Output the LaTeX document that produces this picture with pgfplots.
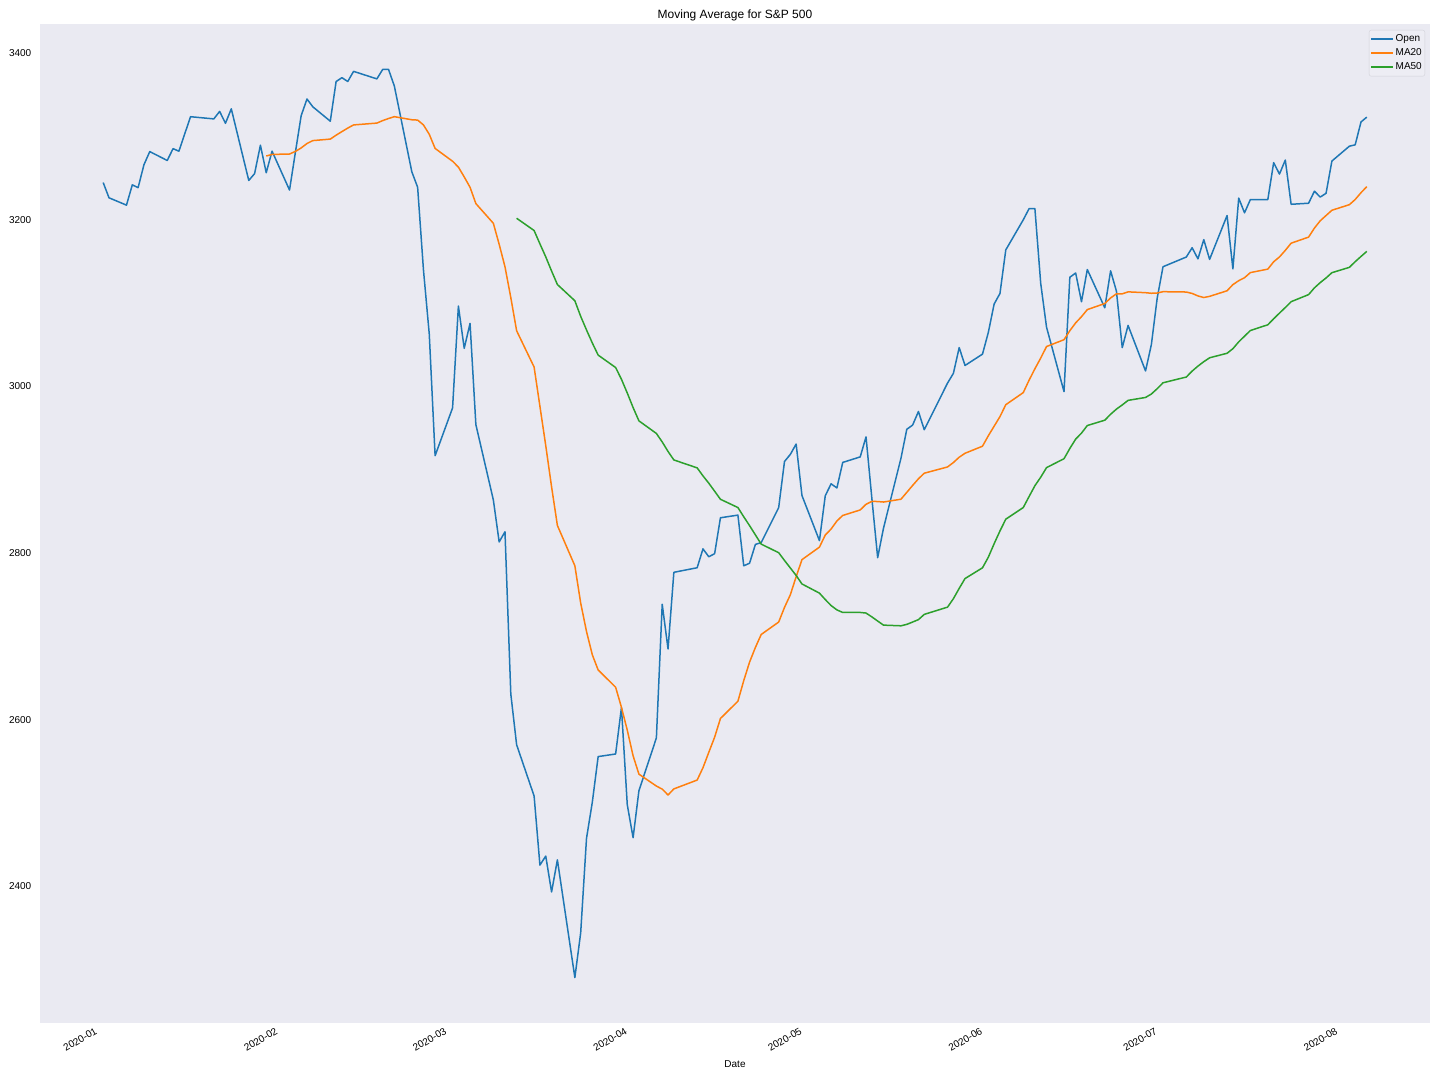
\documentclass[border=0pt]{standalone}
\usepackage{fontspec}
\setmainfont{Liberation Sans}
\usepackage{pgfplots}
\usepackage{pgfplotstable}
\pgfplotsset{compat=1.18}
\definecolor{bgc}{HTML}{EAEAF2}
\definecolor{cOpen}{HTML}{1F77B4}
\definecolor{cMAa}{HTML}{FF7F0E}
\definecolor{cMAb}{HTML}{2CA02C}
\definecolor{legfill}{HTML}{EDEDF4}
\definecolor{legedge}{HTML}{D2D2DA}
\pgfplotsset{
  mylegimg/.style={legend image code/.code={\draw[#1,line width=1.5bp] (0bp,0bp) -- (22bp,0bp);}},
}

% day = days since 2020-01-01
\pgfplotstableread{
day open
1 3244.67
2 3226.36
5 3217.55
6 3241.86
7 3238.59
8 3266.03
9 3281.81
12 3271.13
13 3285.35
14 3282.27
15 3302.97
16 3323.66
20 3321.03
21 3330.02
22 3315.77
23 3333.10
26 3247.16
27 3255.35
28 3289.46
29 3256.45
30 3282.33
33 3235.66
34 3280.61
35 3324.91
36 3344.92
37 3335.54
40 3318.28
41 3365.87
42 3370.50
43 3365.90
44 3378.08
48 3369.04
49 3380.39
50 3380.45
51 3360.50
54 3257.61
55 3238.94
56 3139.90
57 3062.54
58 2916.90
61 2974.28
62 3096.46
63 3045.75
64 3075.70
65 2954.20
68 2863.89
69 2813.48
70 2825.60
71 2630.86
72 2569.99
75 2508.59
76 2425.66
77 2436.50
78 2393.48
79 2431.94
82 2290.71
83 2344.44
84 2457.77
85 2501.29
86 2555.87
89 2558.98
90 2614.69
91 2498.08
92 2458.54
93 2514.92
96 2578.28
97 2738.65
98 2685.00
99 2776.99
103 2782.46
104 2805.10
105 2795.64
106 2799.34
107 2842.43
110 2845.62
111 2784.81
112 2787.89
113 2810.42
114 2812.64
117 2854.65
118 2909.96
119 2918.46
120 2930.91
121 2869.09
124 2815.01
125 2868.88
126 2883.14
127 2878.26
128 2908.83
131 2915.46
132 2939.50
133 2865.86
134 2794.54
135 2829.95
138 2913.86
139 2948.59
140 2953.63
141 2969.95
142 2948.05
146 3004.08
147 3015.65
148 3046.61
149 3025.17
152 3038.78
153 3064.78
154 3098.90
155 3111.56
156 3163.84
159 3199.92
160 3213.32
161 3213.42
162 3123.53
163 3071.04
166 2993.76
167 3131.00
168 3136.13
169 3101.64
170 3140.29
173 3094.42
174 3138.70
175 3114.40
176 3046.60
177 3073.20
180 3018.59
181 3050.20
182 3105.92
183 3143.64
187 3155.29
188 3166.44
189 3153.07
190 3176.17
191 3152.47
194 3205.08
195 3141.11
196 3225.98
197 3208.36
198 3224.21
201 3224.29
202 3268.52
203 3254.86
204 3271.64
205 3218.58
208 3219.84
209 3234.27
210 3227.22
211 3231.76
212 3270.45
215 3288.26
216 3289.92
217 3317.37
218 3323.17
}\openTable

\pgfplotstableread{
day ma
29 3276.5
30 3278.4
33 3278.9
34 3282.0
35 3286.2
36 3291.5
37 3295.0
40 3296.8
41 3301.5
42 3305.8
43 3310.0
44 3313.8
48 3316.0
49 3319.0
50 3321.5
51 3323.7
54 3320.0
55 3319.6
56 3313.8
57 3302.5
58 3285.6
61 3270.2
62 3263.2
63 3251.4
64 3239.0
65 3219.4
68 3195.8
69 3170.6
70 3143.6
71 3106.6
72 3066.8
75 3023.3
76 2976.2
77 2929.0
78 2879.6
79 2833.2
82 2784.8
83 2740.1
84 2706.0
85 2677.9
86 2659.8
89 2639.1
90 2615.0
91 2587.6
92 2556.8
93 2534.8
96 2520.5
97 2516.8
98 2509.8
99 2517.1
103 2527.7
104 2542.5
105 2561.0
106 2579.1
107 2601.6
110 2622.3
111 2647.0
112 2669.2
113 2686.8
114 2702.4
117 2717.3
118 2734.9
119 2750.0
120 2771.7
121 2792.2
124 2807.2
125 2821.7
126 2828.9
127 2838.6
128 2845.2
131 2851.8
132 2858.6
133 2862.1
134 2861.9
135 2861.3
138 2864.7
139 2872.9
140 2881.2
141 2889.2
142 2895.9
146 2903.4
147 2908.7
148 2915.1
149 2919.8
152 2928.3
153 2940.8
154 2952.3
155 2963.8
156 2978.1
159 2992.6
160 3007.5
161 3021.2
162 3034.1
163 3047.9
166 3056.1
167 3066.9
168 3076.3
169 3083.7
170 3092.2
173 3099.5
174 3106.2
175 3111.1
176 3111.1
177 3113.5
180 3112.5
181 3111.8
182 3112.1
183 3113.7
187 3113.3
188 3111.6
189 3108.6
190 3106.7
191 3108.1
194 3114.8
195 3122.2
196 3126.9
197 3130.5
198 3136.6
201 3140.8
202 3149.6
203 3155.4
204 3163.3
205 3171.9
208 3179.2
209 3190.0
210 3198.8
211 3205.1
212 3211.4
215 3218.1
216 3224.3
217 3232.5
218 3239.8
}\maTwentyTable

\pgfplotstableread{
day ma
72 3201.8
75 3187.1
76 3171.1
77 3155.5
78 3138.5
79 3122.3
82 3102.8
83 3084.1
84 3067.8
85 3052.1
86 3037.6
89 3022.7
90 3008.6
91 2992.1
92 2974.7
93 2958.7
96 2943.6
97 2933.4
98 2922.0
99 2911.8
103 2902.3
104 2892.7
105 2883.9
106 2874.3
107 2864.6
110 2854.7
111 2843.6
112 2833.0
113 2821.9
114 2810.8
117 2800.5
118 2791.2
119 2782.2
120 2773.2
121 2763.0
124 2752.0
125 2744.3
126 2737.1
127 2731.9
128 2728.8
131 2728.8
132 2728.1
133 2723.5
134 2718.5
135 2713.6
138 2712.8
139 2714.5
140 2717.3
141 2720.2
142 2726.5
146 2735.2
147 2745.3
148 2757.7
149 2769.5
152 2782.4
153 2795.1
154 2811.3
155 2826.6
156 2840.7
159 2854.7
160 2867.9
161 2880.9
162 2891.1
163 2902.6
166 2913.3
167 2925.6
168 2936.8
169 2944.0
170 2953.1
173 2959.5
174 2966.6
175 2972.8
176 2977.8
177 2983.3
180 2986.8
181 2990.9
182 2997.3
183 3004.4
187 3011.3
188 3018.4
189 3024.4
190 3029.7
191 3034.4
194 3039.8
195 3045.3
196 3053.5
197 3060.3
198 3067.1
201 3074.0
202 3081.2
203 3088.0
204 3094.7
205 3101.7
208 3110.2
209 3118.3
210 3124.6
211 3130.2
212 3136.5
215 3142.9
216 3149.7
217 3156.0
218 3162.1
}\maFiftyTable

\begin{document}
\begin{tikzpicture}
\begin{axis}[
  scale only axis,
  width=1390bp, height=999bp,
  at={(0,0)}, anchor=south west,
  xmin=-9.85, xmax=228.85,
  ymin=2236.2, ymax=3434.9,
  axis background/.style={fill=bgc},
  axis line style={draw=none},
  tick style={draw=none},
  major tick length=0pt,
  xtick={0,31,60,91,121,152,182,213},
  xticklabels={2020-01,2020-02,2020-03,2020-04,2020-05,2020-06,2020-07,2020-08},
  xticklabel style={font=\fontsize{10bp}{12bp}\selectfont, inner sep=0pt, xshift=-3bp, yshift=-4bp, rotate=30, anchor=north east},
  ytick={2400,2600,2800,3000,3200,3400},
  yticklabel style={font=\fontsize{10bp}{12bp}\selectfont, inner sep=0pt, anchor=east, xshift=-8.5bp},
  /pgf/number format/1000 sep={},
  /pgf/number format/assume math mode=true,
  scaled y ticks=false,
  title={Moving Average for S\&P 500},
  title style={font=\fontsize{12bp}{14bp}\selectfont, at={(axis description cs:0.5,1)}, anchor=south, inner sep=0pt, yshift=-3.5bp},
  xlabel={Date},
  xlabel style={font=\fontsize{10bp}{12bp}\selectfont, at={(axis description cs:0.5,0)}, anchor=base, inner sep=0pt, yshift=-44bp},
  legend cell align=left,
  legend style={at={(axis description cs:0.9964,0.994)}, anchor=north east,
    fill=legfill, draw=legedge, rounded corners=2bp,
    inner xsep=1.5bp, inner ysep=2.5bp, row sep=1bp,
    font=\fontsize{10bp}{12bp}\selectfont,
    nodes={inner sep=1.5bp, text height=7.5bp, text depth=2.5bp}},
  mylegimg,
  every axis plot/.append style={line width=1.5bp, line join=round},
]
\addplot[cOpen, mark=none] table[x=day, y=open] {\openTable};
\addlegendentry{Open}
\addplot[cMAa, mark=none] table[x=day, y=ma] {\maTwentyTable};
\addlegendentry{MA20}
\addplot[cMAb, mark=none] table[x=day, y=ma] {\maFiftyTable};
\addlegendentry{MA50}
\end{axis}
\pgfresetboundingbox
\path[use as bounding box] (-40bp,-57bp) rectangle (1400bp,1023bp);
\end{tikzpicture}
\end{document}
